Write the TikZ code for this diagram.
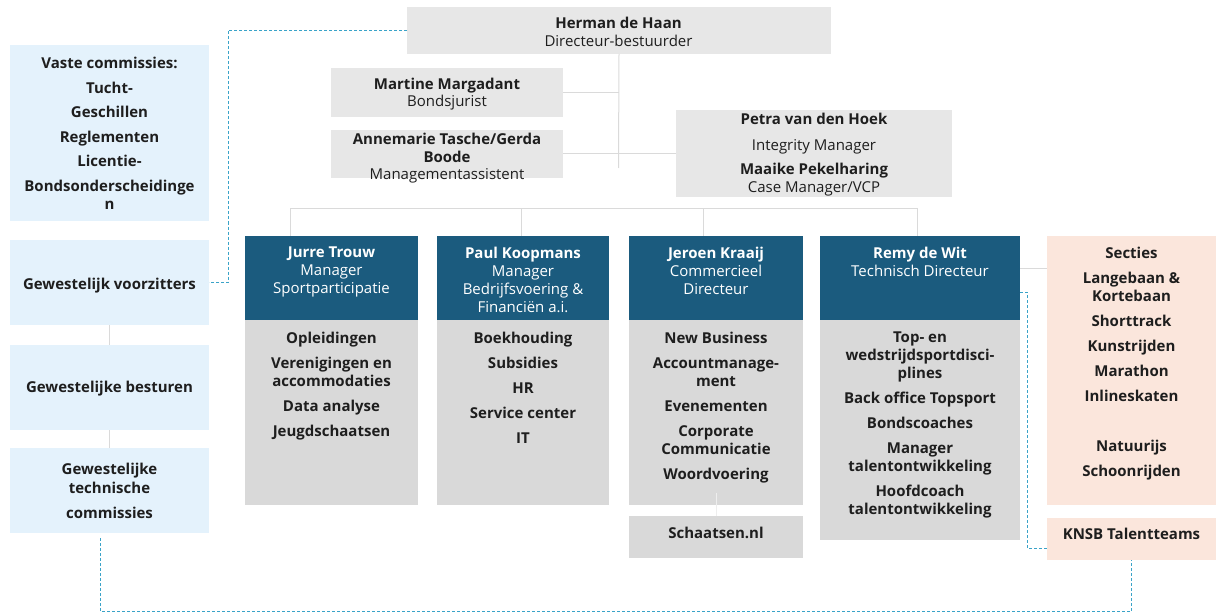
\documentclass[tikz,border=0pt]{standalone}
\usepackage{fontspec}
\setmainfont{Open Sans}
\definecolor{deepblue}{HTML}{1B5B7E}
\definecolor{grayL}{HTML}{D9D9D9}
\definecolor{grayT}{HTML}{E7E7E7}
\definecolor{skyL}{HTML}{E4F2FC}
\definecolor{salm}{HTML}{FBE6DC}
\definecolor{dashC}{HTML}{3AA3C8}
\definecolor{lineC}{HTML}{DADADA}
\definecolor{inkC}{HTML}{1E1E1E}
\tikzset{
 bx/.style={inner sep=0pt, outer sep=0pt, anchor=north west, draw=none},
 topbox/.style={bx, fill=grayT},
 graybox/.style={bx, fill=grayL},
 bluebox/.style={bx, fill=deepblue},
 skybox/.style={bx, fill=skyL},
 salmbox/.style={bx, fill=salm},
 tx/.style={inner sep=0pt, anchor=north, align=center, font=\fontsize{15}{18}\selectfont, text=inkC},
 btx/.style={tx, font=\fontsize{15}{18}\selectfont\bfseries},
 wtx/.style={tx, text=white},
 solidlink/.style={draw=lineC, line width=1pt},
 dashlink/.style={draw=dashC, line width=1pt, dash pattern=on 3pt off 2pt},
}
\begin{document}
\begin{tikzpicture}[x=1pt,y=-1pt]
\useasboundingbox (0,0) rectangle (1216,615);
% ---------- boxes ----------
\node[topbox, minimum width=424pt, minimum height=47pt] (herman) at (407,7) {};
\node[topbox, minimum width=232pt, minimum height=49pt] (martine) at (331,68) {};
\node[topbox, minimum width=232pt, minimum height=48pt] (anne) at (331,130) {};
\node[topbox, minimum width=276pt, minimum height=87pt] (petra) at (676,110) {};
\node[skybox, minimum width=199pt, minimum height=176pt] (vaste) at (10,45) {};
\node[skybox, minimum width=199pt, minimum height=85pt] (voorz) at (10,240) {};
\node[skybox, minimum width=199pt, minimum height=85pt] (best) at (10,345) {};
\node[skybox, minimum width=199pt, minimum height=85pt] (techn) at (10,448) {};
\node[bluebox, minimum width=173pt, minimum height=84pt] (jurreB) at (245,236) {};
\node[graybox, minimum width=173pt, minimum height=185pt] (jurreG) at (245,320) {};
\node[bluebox, minimum width=172pt, minimum height=84pt] (paulB) at (437,236) {};
\node[graybox, minimum width=172pt, minimum height=185pt] (paulG) at (437,320) {};
\node[bluebox, minimum width=174pt, minimum height=84pt] (jeroenB) at (629,236) {};
\node[graybox, minimum width=174pt, minimum height=185pt] (jeroenG) at (629,320) {};
\node[graybox, minimum width=174pt, minimum height=42pt] (schaats) at (629,516) {};
\node[bluebox, minimum width=200pt, minimum height=84pt] (remyB) at (820,236) {};
\node[graybox, minimum width=200pt, minimum height=220pt] (remyG) at (820,320) {};
\node[salmbox, minimum width=169pt, minimum height=269pt] (secties) at (1047,236) {};
\node[salmbox, minimum width=169pt, minimum height=42pt] (knsb) at (1047,518) {};
% ---------- texts ----------
\node[tx] (hermanT) at (618.5,17) {\textbf{Herman de Haan}\\Directeur-bestuurder};
\node[tx] (martineT) at (447,78) {\textbf{Martine Margadant}\\[-1pt]Bondsjurist};
\node[tx] (anneT) at (447,133) {\textbf{Annemarie Tasche/Gerda}\\[-0.5pt]\textbf{Boode}\\[-0.5pt]Managementassistent};
\node[tx] (petraT) at (814,113) {\textbf{Petra van den Hoek}\\[8pt]Integrity Manager\\[6pt]\textbf{Maaike Pekelharing}\\Case Manager/VCP};
\node[btx] (vasteT) at (109.5,57) {Vaste commissies:\\[6.5pt]Tucht-\\[6.5pt]Geschillen\\[6.5pt]Reglementen\\[6.5pt]Licentie-\\[6.5pt]Bondsonderscheidinge\\n};
\node[btx] (voorzT) at (109.5,278) {Gewestelijk voorzitters};
\node[btx] (bestT) at (109.5,381) {Gewestelijke besturen};
\node[btx] (technT) at (109.5,463) {Gewestelijke\\[1pt]technische\\[7pt]commissies};
\node[wtx] (jurreBT) at (331.5,247) {\textbf{Jurre Trouw}\\Manager\\Sportparticipatie};
\node[wtx] (paulBT) at (523,247) {\textbf{Paul Koopmans}\\Manager\\Bedrijfsvoering \&\\Financiën a.i.};
\node[wtx] (jeroenBT) at (716,247) {\textbf{Jeroen Kraaij}\\Commercieel\\Directeur};
\node[wtx] (remyBT) at (920,247) {\textbf{Remy de Wit}\\Technisch Directeur};
\node[btx] (jurreGT) at (331.5,332) {Opleidingen\\[7pt]Verenigingen en\\accommodaties\\[7pt]Data analyse\\[7pt]Jeugdschaatsen};
\node[btx] (paulGT) at (523,332) {Boekhouding\\[7pt]Subsidies\\[7pt]HR\\[7pt]Service center\\[7pt]IT};
\node[btx] (jeroenGT) at (716,332) {New Business\\[7pt]Accountmanage-\\ment\\[7pt]Evenementen\\[7pt]Corporate\\Communicatie\\[7pt]Woordvoering};
\node[btx] (remyGT) at (920,332) {Top- en\\wedstrijdsportdisci-\\plines\\[7pt]Back office Topsport\\[7pt]Bondscoaches\\[7pt]Manager\\talentontwikkeling\\[7pt]Hoofdcoach\\talentontwikkeling};
\node[btx] (schaatsT) at (716,527) {Schaatsen.nl};
\node[btx] (sectiesT) at (1131.5,247) {Secties\\[7pt]Langebaan \&\\Kortebaan\\[7pt]Shorttrack\\[7pt]Kunstrijden\\[7pt]Marathon\\[7pt]Inlineskaten\\[32pt]Natuurijs\\[7pt]Schoonrijden};
\node[btx] (knsbT) at (1131.5,528) {KNSB Talentteams};
% ---------- solid connectors ----------
\coordinate (hermanEnd) at (618.5,168);
\draw[solidlink] (herman.south) -- (hermanEnd);
\draw[solidlink] (martine.east) -- (martine.east -| hermanEnd);
\draw[solidlink] (anne.east) -- (petra.west |- anne.east);
\coordinate (busL) at (290,208);
\coordinate (busP) at (521,208);
\coordinate (busJ) at (703,208);
\coordinate (busR) at (917,208);
\draw[solidlink] (busL) -- (busR);
\draw[solidlink] (busL) -- (busL |- jurreB.north);
\draw[solidlink] (busP) -- (busP |- paulB.north);
\draw[solidlink] (busJ) -- (busJ |- jeroenB.north);
\draw[solidlink] (busR) -- (busR |- remyB.north);
\draw[solidlink] (voorz.south) -- (best.north);
\draw[solidlink] (best.south) -- (techn.north);
\coordinate (rs) at (1020,268);
\draw[solidlink] (rs) -- (secties.west |- rs);
\coordinate (jsTop) at (716,493);
\draw[draw=white!55!grayL, line width=1pt] (jsTop) -- (schaats.north);
% ---------- dashed connectors ----------
\coordinate (dv) at (228,30.5);
\draw[dashlink] (herman.west) -- (dv) -- (dv |- voorz.east) -- (voorz.east);
\coordinate (rd) at (1027,292);
\coordinate (kd) at (1047,548);
\draw[dashlink] (remyB.east |- rd) -- (rd) -- (rd |- kd) -- (kd);
\coordinate (bd) at (100,611);
\draw[dashlink, shorten <=5pt] (techn.south -| bd) -- (bd) -- (bd -| knsb.south) -- (knsb.south);
\end{tikzpicture}
\end{document}
